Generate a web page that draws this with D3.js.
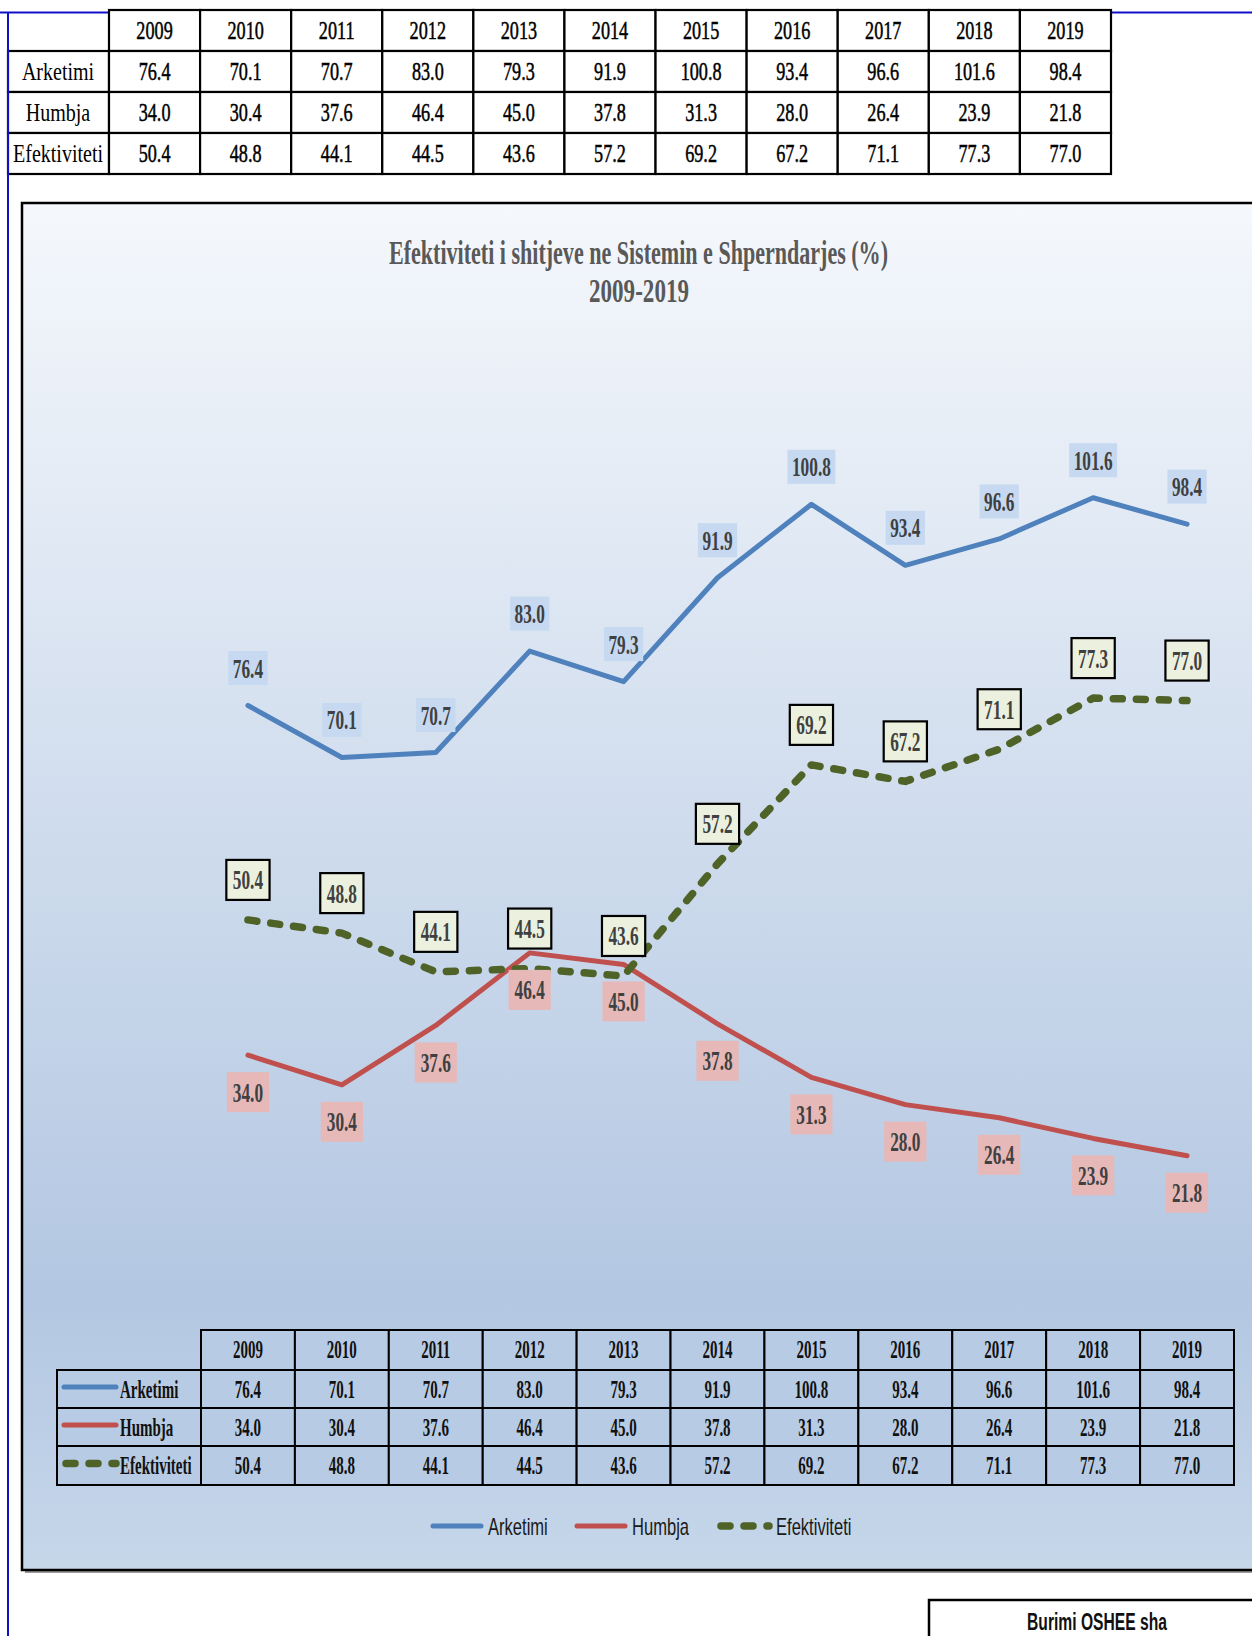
<!DOCTYPE html>
<html><head><meta charset="utf-8">
<script src="https://cdn.jsdelivr.net/npm/d3@7"></script>
<style>body{margin:0;background:#fff}svg{display:block}</style>
</head><body>
<script>
// ---- data ----
const years = ["2009","2010","2011","2012","2013","2014","2015","2016","2017","2018","2019"];
const seriesNames = ["Arketimi","Humbja","Efektiviteti"];
const arketimi = [76.4,70.1,70.7,83.0,79.3,91.9,100.8,93.4,96.6,101.6,98.4];
const humbja = [34.0,30.4,37.6,46.4,45.0,37.8,31.3,28.0,26.4,23.9,21.8];
const efektiviteti = [50.4,48.8,44.1,44.5,43.6,57.2,69.2,67.2,71.1,77.3,77.0];
const titleLines = ["Efektiviteti i shitjeve ne Sistemin e Shperndarjes (%)","2009-2019"];
const sourceText = "Burimi OSHEE sha";

const seriesValues = [arketimi, humbja, efektiviteti];
const colors = ["#4f81bd","#c0504d","#4f6228"];
const fmt = d3.format(".1f");

const W = 1252, H = 1636;
const svg = d3.select("body").append("svg").attr("width", W).attr("height", H);
const defs = svg.append("defs");
const grad = defs.append("linearGradient").attr("id","bg").attr("x1",0).attr("y1",0).attr("x2",0).attr("y2",1);
grad.append("stop").attr("offset",0).attr("stop-color","#f5f8fc");
grad.append("stop").attr("offset",0.8).attr("stop-color","#b3c7e2");
grad.append("stop").attr("offset",1).attr("stop-color","#c6d7ea");

const SERIF = "'Liberation Serif','Times New Roman',serif";
const SANS = "'Liberation Sans',Arial,sans-serif";

function ctext(parent, x, y, str, o) {
  const t = parent.append("text")
    .attr("transform", `translate(${x},${y}) scale(${o.sx||0.75},1)`)
    .attr("text-anchor", o.anchor || "middle")
    .attr("font-family", o.family || SERIF)
    .attr("font-size", o.size || 24)
    .attr("font-weight", o.weight || "normal")
    .attr("fill", o.fill || "#000")
    .text(str);
  if (o.stroke) t.attr("stroke", o.fill || "#000").attr("stroke-width", o.stroke);
  return t;
}

// blue page line (horizontal, behind table)
svg.append("line").attr("x1",0).attr("x2",W).attr("y1",12.5).attr("y2",12.5)
  .attr("stroke","#1010c8").attr("stroke-width",2);

// ---- top table ----
const xTop = d3.scaleBand().domain(years).range([109, 1111]);
const topRowsY = [10, 51, 92, 133, 174];
const topG = svg.append("g");
const topTxt = {size:26, sx:0.7, stroke:0.5};
years.forEach(yr => {
  topG.append("rect").attr("x", xTop(yr)).attr("y", topRowsY[0]).attr("width", xTop.bandwidth()).attr("height", topRowsY[1]-topRowsY[0])
    .attr("fill","#fff").attr("stroke","#000").attr("stroke-width",2.2);
  ctext(topG, xTop(yr)+xTop.bandwidth()/2, topRowsY[0]+29, yr, topTxt);
});
seriesNames.forEach((name, i) => {
  const y0 = topRowsY[i+1], h = topRowsY[i+2]-y0;
  topG.append("rect").attr("x", 8).attr("y", y0).attr("width", 101).attr("height", h)
    .attr("fill","#fff").attr("stroke","#000").attr("stroke-width",2.2);
  ctext(topG, 58, y0+29, name, {size:26, sx:0.77});
  years.forEach((yr, j) => {
    topG.append("rect").attr("x", xTop(yr)).attr("y", y0).attr("width", xTop.bandwidth()).attr("height", h)
      .attr("fill","#fff").attr("stroke","#000").attr("stroke-width",2.2);
    ctext(topG, xTop(yr)+xTop.bandwidth()/2, y0+29, fmt(seriesValues[i][j]), topTxt);
  });
});

// ---- chart box ----
svg.append("rect").attr("x",25).attr("y",206).attr("width",1240).attr("height",1367).attr("fill","#9a9a9a");
svg.append("rect").attr("x",22).attr("y",203).attr("width",1240).attr("height",1367)
  .attr("fill","url(#bg)").attr("stroke","#000").attr("stroke-width",2.5);

// vertical blue page line
svg.append("line").attr("x1",8).attr("x2",8).attr("y1",12).attr("y2",H)
  .attr("stroke","#1010c8").attr("stroke-width",2);

// title
svg.append("text").attr("x",638.5).attr("y",264).attr("text-anchor","middle")
  .attr("font-family",SERIF).attr("font-weight","bold").attr("font-size",34).attr("fill","#595959")
  .attr("textLength",499).attr("lengthAdjust","spacingAndGlyphs").text(titleLines[0]);
svg.append("text").attr("x",639).attr("y",302).attr("text-anchor","middle")
  .attr("font-family",SERIF).attr("font-weight","bold").attr("font-size",34).attr("fill","#595959")
  .attr("textLength",100).attr("lengthAdjust","spacingAndGlyphs").text(titleLines[1]);

// ---- scales ----
const xBand = d3.scaleBand().domain(years).range([201, 1234]).padding(0);
const xc = yr => xBand(yr) + xBand.bandwidth()/2;
const y = d3.scaleLinear().domain([0, 120]).range([1335.5, 346]);

const line = d3.line().x((d,i) => xc(years[i])).y(d => y(d));

const lineG = svg.append("g");
lineG.append("path").datum(arketimi).attr("d", line).attr("fill","none")
  .attr("stroke",colors[0]).attr("stroke-width",5).attr("stroke-linejoin","round").attr("stroke-linecap","round");
lineG.append("path").datum(humbja).attr("d", line).attr("fill","none")
  .attr("stroke",colors[1]).attr("stroke-width",5).attr("stroke-linejoin","round").attr("stroke-linecap","round");
lineG.append("path").datum(efektiviteti).attr("d", line).attr("fill","none")
  .attr("stroke",colors[2]).attr("stroke-width",7.5).attr("stroke-linejoin","round").attr("stroke-linecap","round")
  .attr("stroke-dasharray","9,14");

// ---- data labels ----
const labelG = svg.append("g");
function labelBox(x, cy, str, st) {
  const g = labelG.append("g").attr("transform", `translate(${x},${cy})`);
  const t = g.append("text").attr("transform","scale(0.64,1)").attr("text-anchor","middle").attr("y",9.5)
    .attr("font-family",SERIF).attr("font-weight","bold").attr("font-size",27).attr("fill","#404040").text(str);
  const w = t.node().getBBox().width*0.64 + st.pad;
  g.insert("rect","text").attr("x",-w/2).attr("y",-st.h/2).attr("width",w).attr("height",st.h)
    .attr("fill",st.fill).attr("stroke",st.stroke||"none").attr("stroke-width",st.sw||0);
}
const labelStyles = [
  {dy:-37.5, h:34, pad:9, fill:"#c6d9f1"},
  {dy:37, h:40, pad:12, fill:"#e6b9b8"},
  {dy:-40, h:40, pad:13, fill:"#ebf1de", stroke:"#000", sw:2.2}
];
seriesValues.forEach((vals, i) => {
  vals.forEach((v, j) => {
    labelBox(xc(years[j]), y(v) + labelStyles[i].dy, fmt(v), labelStyles[i]);
  });
});

// ---- bottom data table ----
const tb = svg.append("g");
const botRowsY = [1330, 1370, 1408, 1446, 1485];
const botTxt = {size:25, sx:0.6, weight:"bold", fill:"#111"};
years.forEach(yr => {
  tb.append("rect").attr("x", xBand(yr)).attr("y", botRowsY[0]).attr("width", xBand.bandwidth()).attr("height", botRowsY[1]-botRowsY[0])
    .attr("fill","#b7cbe4").attr("stroke","#000").attr("stroke-width",2);
  ctext(tb, xc(yr), botRowsY[0]+28, yr, botTxt);
});
seriesNames.forEach((name, i) => {
  const y0 = botRowsY[i+1], h = botRowsY[i+2]-y0;
  tb.append("rect").attr("x", 57).attr("y", y0).attr("width", 144).attr("height", h)
    .attr("fill","#b7cbe4").attr("stroke","#000").attr("stroke-width",2);
  const ly = y0 + h/2;
  if (i < 2) {
    tb.append("line").attr("x1",64).attr("x2",116).attr("y1",ly-2).attr("y2",ly-2)
      .attr("stroke",colors[i]).attr("stroke-width",5).attr("stroke-linecap","round");
  } else {
    tb.append("line").attr("x1",66).attr("x2",116).attr("y1",ly-2).attr("y2",ly-2)
      .attr("stroke",colors[i]).attr("stroke-width",7.5).attr("stroke-linecap","round").attr("stroke-dasharray","9,14");
  }
  ctext(tb, 120, y0+28, name, {size:25, sx:0.6, weight:"bold", anchor:"start", fill:"#111"});
  years.forEach((yr, j) => {
    tb.append("rect").attr("x", xBand(yr)).attr("y", y0).attr("width", xBand.bandwidth()).attr("height", h)
      .attr("fill","#b7cbe4").attr("stroke","#000").attr("stroke-width",2);
    ctext(tb, xc(yr), y0+28, fmt(seriesValues[i][j]), botTxt);
  });
});

// ---- legend ----
const lg = svg.append("g");
const legendItems = [{x:433, tx:488}, {x:577, tx:632}, {x:721, tx:776}];
seriesNames.forEach((name, i) => {
  const it = legendItems[i];
  const ln = lg.append("line").attr("x1",it.x).attr("x2",it.x+48).attr("y1",1526).attr("y2",1526)
    .attr("stroke",colors[i]).attr("stroke-linecap","round");
  if (i < 2) ln.attr("stroke-width",5);
  else ln.attr("stroke-width",7.5).attr("stroke-dasharray","9,14");
  ctext(lg, it.tx, 1535, name, {size:23, sx:0.72, family:SANS, anchor:"start", fill:"#1a1a1a"});
});

// ---- source box ----
svg.append("rect").attr("x",929).attr("y",1600).attr("width",400).attr("height",100)
  .attr("fill","#fff").attr("stroke","#000").attr("stroke-width",2.5);
ctext(svg, 1097, 1630, sourceText, {size:23, sx:0.68, family:SANS, weight:"bold", fill:"#111"});
</script>
</body></html>
